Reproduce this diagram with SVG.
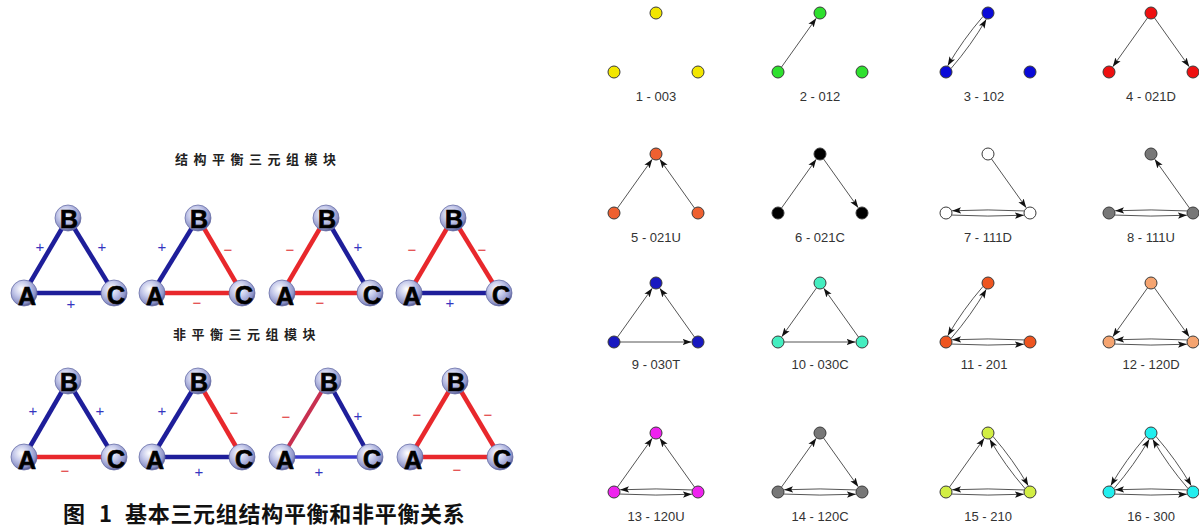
<svg xmlns="http://www.w3.org/2000/svg" width="1199" height="527" viewBox="0 0 1199 527">
<defs>
<style>
.lbl{font-family:"Liberation Sans",Arial,sans-serif;font-size:13px;fill:#333;text-anchor:middle}
.e{fill:none;stroke:#555;stroke-width:1;marker-end:url(#ah)}
.n{stroke:#3a3a3a;stroke-width:1}
.tt{font-family:"Noto Sans CJK SC",sans-serif;font-weight:700;font-size:13px;fill:#222;letter-spacing:5.5px}
.cap{font-family:"Noto Sans CJK SC",sans-serif;font-weight:700;font-size:22px;fill:#111;letter-spacing:0.7px}
.sg{font-family:"Liberation Sans",Arial,sans-serif;font-size:15px;text-anchor:middle}
.p{fill:#3535c0}
.m{fill:#e03030}
.lb{stroke:#1e1e9a;stroke-width:4.5}
.lr{stroke:#e8282c;stroke-width:4.5}
.sph{fill:url(#sph);stroke:#6a70a8;stroke-width:0.8}
.let{font-family:"Liberation Sans",Arial,sans-serif;font-weight:700;font-size:25px;fill:#000;stroke:#000;stroke-width:0.7;text-anchor:middle}
</style>
<marker id="ah" markerUnits="userSpaceOnUse" markerWidth="9" markerHeight="7" viewBox="0 0 9 7" refX="9" refY="3.5" orient="auto">
<path d="M0,0.3 L9,3.5 L0,6.7 L2,3.5 z" fill="#111"/>
</marker>
<radialGradient id="sph" cx="40%" cy="35%" r="65%">
<stop offset="0" stop-color="#ffffff"/>
<stop offset="0.45" stop-color="#c5c9ea"/>
<stop offset="0.85" stop-color="#8d93c8"/>
<stop offset="1" stop-color="#5a5f95"/>
</radialGradient>
</defs>
<rect width="1199" height="527" fill="#fff"/>

<!-- Left part -->
<text class="tt" x="175" y="164">结构平衡三元组模块</text>
<text class="tt" x="173" y="339">非平衡三元组模块</text>

<g id="sign-triangles">
<!-- Row 1 -->
<g id="bal1">
<g id="bal1-edges"><line class="lb" x1="24" y1="293" x2="68" y2="218"/><line class="lb" x1="68" y1="218" x2="114" y2="293"/><line class="lb" x1="24" y1="293" x2="114" y2="293"/></g>
<g id="bal1-B"><circle class="sph" cx="68" cy="218" r="13"/><text class="let" x="69" y="228">B</text></g>
<g id="bal1-A"><circle class="sph" cx="24" cy="293" r="13"/><text class="let" x="27" y="305">A</text></g>
<g id="bal1-C"><circle class="sph" cx="114" cy="293" r="13"/><text class="let" x="116" y="304">C</text></g>
<text class="sg p" x="40" y="252">+</text><text class="sg p" x="102" y="252">+</text><text class="sg p" x="71" y="309">+</text>
</g>
<g id="bal2">
<g id="bal2-edges"><line class="lb" x1="152" y1="293" x2="198" y2="218"/><line class="lr" x1="198" y1="218" x2="242" y2="293"/><line class="lr" x1="152" y1="293" x2="242" y2="293"/></g>
<g id="bal2-B"><circle class="sph" cx="198" cy="218" r="13"/><text class="let" x="199" y="228">B</text></g>
<g id="bal2-A"><circle class="sph" cx="152" cy="293" r="13"/><text class="let" x="155" y="305">A</text></g>
<g id="bal2-C"><circle class="sph" cx="242" cy="293" r="13"/><text class="let" x="244" y="304">C</text></g>
<text class="sg p" x="162" y="252">+</text><text class="sg m" x="228" y="255">−</text><text class="sg m" x="197" y="308">−</text>
</g>
<g id="bal3">
<g id="bal3-edges"><line class="lr" x1="282" y1="293" x2="326" y2="218"/><line class="lb" x1="326" y1="218" x2="370" y2="293"/><line class="lr" x1="282" y1="293" x2="370" y2="293"/></g>
<g id="bal3-B"><circle class="sph" cx="326" cy="218" r="13"/><text class="let" x="327" y="228">B</text></g>
<g id="bal3-A"><circle class="sph" cx="282" cy="293" r="13"/><text class="let" x="285" y="305">A</text></g>
<g id="bal3-C"><circle class="sph" cx="370" cy="293" r="13"/><text class="let" x="372" y="304">C</text></g>
<text class="sg m" x="290" y="255">−</text><text class="sg p" x="358" y="252">+</text><text class="sg m" x="320" y="308">−</text>
</g>
<g id="bal4">
<g id="bal4-edges"><line class="lr" x1="409" y1="293" x2="453" y2="218"/><line class="lr" x1="453" y1="218" x2="499" y2="293"/><line class="lb" x1="409" y1="293" x2="499" y2="293"/></g>
<g id="bal4-B"><circle class="sph" cx="453" cy="218" r="13"/><text class="let" x="454" y="228">B</text></g>
<g id="bal4-A"><circle class="sph" cx="409" cy="293" r="13"/><text class="let" x="412" y="305">A</text></g>
<g id="bal4-C"><circle class="sph" cx="499" cy="293" r="13"/><text class="let" x="501" y="304">C</text></g>
<text class="sg m" x="412" y="255">−</text><text class="sg m" x="482" y="255">−</text><text class="sg p" x="450" y="308">+</text>
</g>
<!-- Row 2 -->
<g id="unb1">
<g id="unb1-edges"><line class="lb" x1="24" y1="457" x2="68" y2="381"/><line class="lb" x1="68" y1="381" x2="114" y2="457"/><line class="lr" x1="24" y1="457" x2="114" y2="457"/></g>
<g id="unb1-B"><circle class="sph" cx="68" cy="381" r="13"/><text class="let" x="69" y="391">B</text></g>
<g id="unb1-A"><circle class="sph" cx="24" cy="457" r="13"/><text class="let" x="27" y="469">A</text></g>
<g id="unb1-C"><circle class="sph" cx="114" cy="457" r="13"/><text class="let" x="116" y="468">C</text></g>
<text class="sg p" x="33" y="416">+</text><text class="sg p" x="100" y="416">+</text><text class="sg m" x="65" y="476">−</text>
</g>
<g id="unb2">
<g id="unb2-edges"><line class="lb" x1="152" y1="457" x2="198" y2="381"/><line class="lr" x1="198" y1="381" x2="242" y2="457"/><line class="lb" x1="152" y1="457" x2="242" y2="457"/></g>
<g id="unb2-B"><circle class="sph" cx="198" cy="381" r="13"/><text class="let" x="199" y="391">B</text></g>
<g id="unb2-A"><circle class="sph" cx="152" cy="457" r="13"/><text class="let" x="155" y="469">A</text></g>
<g id="unb2-C"><circle class="sph" cx="242" cy="457" r="13"/><text class="let" x="244" y="468">C</text></g>
<text class="sg p" x="162" y="416">+</text><text class="sg m" x="234" y="418">−</text><text class="sg p" x="199" y="477">+</text>
</g>
<g id="unb3">
<g id="unb3-edges"><line x1="282" y1="457" x2="328" y2="381" stroke="#c83050" stroke-width="4"/><line class="lb" x1="328" y1="381" x2="370" y2="457"/><line x1="282" y1="457" x2="370" y2="457" stroke="#3c3ccc" stroke-width="3.5"/></g>
<g id="unb3-B"><circle class="sph" cx="328" cy="381" r="13"/><text class="let" x="329" y="391">B</text></g>
<g id="unb3-A"><circle class="sph" cx="282" cy="457" r="13"/><text class="let" x="285" y="469">A</text></g>
<g id="unb3-C"><circle class="sph" cx="370" cy="457" r="13"/><text class="let" x="372" y="468">C</text></g>
<text class="sg m" x="286" y="422">−</text><text class="sg p" x="358" y="421">+</text><text class="sg p" x="319" y="477">+</text>
</g>
<g id="unb4">
<g id="unb4-edges"><line class="lr" x1="410" y1="457" x2="455" y2="381"/><line class="lr" x1="455" y1="381" x2="500" y2="457"/><line class="lr" x1="410" y1="457" x2="500" y2="457"/></g>
<g id="unb4-B"><circle class="sph" cx="455" cy="381" r="13"/><text class="let" x="456" y="391">B</text></g>
<g id="unb4-A"><circle class="sph" cx="410" cy="457" r="13"/><text class="let" x="413" y="469">A</text></g>
<g id="unb4-C"><circle class="sph" cx="500" cy="457" r="13"/><text class="let" x="502" y="468">C</text></g>
<text class="sg m" x="417" y="420">−</text><text class="sg m" x="488" y="420">−</text><text class="sg m" x="457" y="475">−</text>
</g>
</g>

<text class="cap" y="522"><tspan x="63">图</tspan><tspan x="99">1</tspan><tspan x="125">基本三元组结构平衡和非平衡关系</tspan></text>

<!-- Right part: 16 triads -->
<g id="triad1" transform="translate(656,13)">
<g id="triad1-edges"></g>
<g id="triad1-T"><circle class="n" cx="0" cy="0" r="6" fill="#f2e600"/></g>
<g id="triad1-L"><circle class="n" cx="-42" cy="59" r="6" fill="#f2e600"/></g>
<g id="triad1-R"><circle class="n" cx="42" cy="59" r="6" fill="#f2e600"/></g>
<text class="lbl" x="0" y="88">1 - 003</text>
</g>
<g id="triad2" transform="translate(820,13)">
<g id="triad2-edges"><path class="e" d="M-38.52,54.11 L-3.77,5.3"/></g>
<g id="triad2-T"><circle class="n" cx="0" cy="0" r="6" fill="#2ee02e"/></g>
<g id="triad2-L"><circle class="n" cx="-42" cy="59" r="6" fill="#2ee02e"/></g>
<g id="triad2-R"><circle class="n" cx="42" cy="59" r="6" fill="#2ee02e"/></g>
<text class="lbl" x="0" y="88">2 - 012</text>
</g>
<g id="triad3" transform="translate(988,13)">
<g id="triad3-edges"><path class="e" d="M-37.06,55.6 Q-16.93,32.4 -1.73,6.27"/><path class="e" d="M-4.94,3.4 Q-25.07,26.6 -40.27,52.73"/></g>
<g id="triad3-T"><circle class="n" cx="0" cy="0" r="6" fill="#0a0ad8"/></g>
<g id="triad3-L"><circle class="n" cx="-42" cy="59" r="6" fill="#0a0ad8"/></g>
<g id="triad3-R"><circle class="n" cx="42" cy="59" r="6" fill="#0a0ad8"/></g>
<text class="lbl" x="-4" y="88">3 - 102</text>
</g>
<g id="triad4" transform="translate(1151,13)">
<g id="triad4-edges"><path class="e" d="M-3.48,4.89 L-38.23,53.7"/><path class="e" d="M3.48,4.89 L38.23,53.7"/></g>
<g id="triad4-T"><circle class="n" cx="0" cy="0" r="6" fill="#ee1010"/></g>
<g id="triad4-L"><circle class="n" cx="-42" cy="59" r="6" fill="#ee1010"/></g>
<g id="triad4-R"><circle class="n" cx="42" cy="59" r="6" fill="#ee1010"/></g>
<text class="lbl" x="0" y="88">4 - 021D</text>
</g>

<g id="triad5" transform="translate(656,154)">
<g id="triad5-edges"><path class="e" d="M-38.52,54.11 L-3.77,5.3"/><path class="e" d="M38.52,54.11 L3.77,5.3"/></g>
<g id="triad5-T"><circle class="n" cx="0" cy="0" r="6" fill="#ee6030"/></g>
<g id="triad5-L"><circle class="n" cx="-42" cy="59" r="6" fill="#ee6030"/></g>
<g id="triad5-R"><circle class="n" cx="42" cy="59" r="6" fill="#ee6030"/></g>
<text class="lbl" x="0" y="88">5 - 021U</text>
</g>
<g id="triad6" transform="translate(820,154)">
<g id="triad6-edges"><path class="e" d="M-38.52,54.11 L-3.77,5.3"/><path class="e" d="M3.48,4.89 L38.23,53.7"/></g>
<g id="triad6-T"><circle class="n" cx="0" cy="0" r="6" fill="#000"/></g>
<g id="triad6-L"><circle class="n" cx="-42" cy="59" r="6" fill="#000"/></g>
<g id="triad6-R"><circle class="n" cx="42" cy="59" r="6" fill="#000"/></g>
<text class="lbl" x="0" y="88">6 - 021C</text>
</g>
<g id="triad7" transform="translate(988,154)">
<g id="triad7-edges"><path class="e" d="M3.48,4.89 L38.23,53.7"/><path class="e" d="M-36.36,61.05 Q0,63 35.89,61.22"/><path class="e" d="M36.36,56.95 Q0,55 -35.89,56.78"/></g>
<g id="triad7-T"><circle class="n" cx="0" cy="0" r="6" fill="#fff" stroke="#666"/></g>
<g id="triad7-L"><circle class="n" cx="-42" cy="59" r="6" fill="#fff" stroke="#666"/></g>
<g id="triad7-R"><circle class="n" cx="42" cy="59" r="6" fill="#fff" stroke="#666"/></g>
<text class="lbl" x="0" y="88">7 - 111D</text>
</g>
<g id="triad8" transform="translate(1151,154)">
<g id="triad8-edges"><path class="e" d="M38.52,54.11 L3.77,5.3"/><path class="e" d="M-36.36,61.05 Q0,63 35.89,61.22"/><path class="e" d="M36.36,56.95 Q0,55 -35.89,56.78"/></g>
<g id="triad8-T"><circle class="n" cx="0" cy="0" r="6" fill="#777"/></g>
<g id="triad8-L"><circle class="n" cx="-42" cy="59" r="6" fill="#777"/></g>
<g id="triad8-R"><circle class="n" cx="42" cy="59" r="6" fill="#777"/></g>
<text class="lbl" x="0" y="88">8 - 111U</text>
</g>

<g id="triad9" transform="translate(656,283)">
<g id="triad9-edges"><path class="e" d="M-38.52,54.11 L-3.77,5.3"/><path class="e" d="M38.52,54.11 L3.77,5.3"/><path class="e" d="M-36,59 L35.5,59"/></g>
<g id="triad9-T"><circle class="n" cx="0" cy="0" r="6" fill="#1818c0"/></g>
<g id="triad9-L"><circle class="n" cx="-42" cy="59" r="6" fill="#1818c0"/></g>
<g id="triad9-R"><circle class="n" cx="42" cy="59" r="6" fill="#1818c0"/></g>
<text class="lbl" x="0" y="86">9 - 030T</text>
</g>
<g id="triad10" transform="translate(820,283)">
<g id="triad10-edges"><path class="e" d="M-3.48,4.89 L-38.23,53.7"/><path class="e" d="M38.52,54.11 L3.77,5.3"/><path class="e" d="M-36,59 L35.5,59"/></g>
<g id="triad10-T"><circle class="n" cx="0" cy="0" r="6" fill="#44eec0"/></g>
<g id="triad10-L"><circle class="n" cx="-42" cy="59" r="6" fill="#44eec0"/></g>
<g id="triad10-R"><circle class="n" cx="42" cy="59" r="6" fill="#44eec0"/></g>
<text class="lbl" x="0" y="86">10 - 030C</text>
</g>
<g id="triad11" transform="translate(988,283)">
<g id="triad11-edges"><path class="e" d="M-37.06,55.6 Q-16.93,32.4 -1.73,6.27"/><path class="e" d="M-4.94,3.4 Q-25.07,26.6 -40.27,52.73"/><path class="e" d="M-36.36,61.05 Q0,63 35.89,61.22"/><path class="e" d="M36.36,56.95 Q0,55 -35.89,56.78"/></g>
<g id="triad11-T"><circle class="n" cx="0" cy="0" r="6" fill="#ee5520"/></g>
<g id="triad11-L"><circle class="n" cx="-42" cy="59" r="6" fill="#ee5520"/></g>
<g id="triad11-R"><circle class="n" cx="42" cy="59" r="6" fill="#ee5520"/></g>
<text class="lbl" x="-4" y="86">11 - 201</text>
</g>
<g id="triad12" transform="translate(1151,283)">
<g id="triad12-edges"><path class="e" d="M-3.48,4.89 L-38.23,53.7"/><path class="e" d="M3.48,4.89 L38.23,53.7"/><path class="e" d="M-36.36,61.05 Q0,63 35.89,61.22"/><path class="e" d="M36.36,56.95 Q0,55 -35.89,56.78"/></g>
<g id="triad12-T"><circle class="n" cx="0" cy="0" r="6" fill="#f5a470"/></g>
<g id="triad12-L"><circle class="n" cx="-42" cy="59" r="6" fill="#f5a470"/></g>
<g id="triad12-R"><circle class="n" cx="42" cy="59" r="6" fill="#f5a470"/></g>
<text class="lbl" x="0" y="86">12 - 120D</text>
</g>

<g id="triad13" transform="translate(656,433)">
<g id="triad13-edges"><path class="e" d="M-38.52,54.11 L-3.77,5.3"/><path class="e" d="M38.52,54.11 L3.77,5.3"/><path class="e" d="M-36.36,61.05 Q0,63 35.89,61.22"/><path class="e" d="M36.36,56.95 Q0,55 -35.89,56.78"/></g>
<g id="triad13-T"><circle class="n" cx="0" cy="0" r="6" fill="#ee22ee"/></g>
<g id="triad13-L"><circle class="n" cx="-42" cy="59" r="6" fill="#ee22ee"/></g>
<g id="triad13-R"><circle class="n" cx="42" cy="59" r="6" fill="#ee22ee"/></g>
<text class="lbl" x="0" y="88">13 - 120U</text>
</g>
<g id="triad14" transform="translate(820,433)">
<g id="triad14-edges"><path class="e" d="M-38.52,54.11 L-3.77,5.3"/><path class="e" d="M3.48,4.89 L38.23,53.7"/><path class="e" d="M-36.36,61.05 Q0,63 35.89,61.22"/><path class="e" d="M36.36,56.95 Q0,55 -35.89,56.78"/></g>
<g id="triad14-T"><circle class="n" cx="0" cy="0" r="6" fill="#777"/></g>
<g id="triad14-L"><circle class="n" cx="-42" cy="59" r="6" fill="#777"/></g>
<g id="triad14-R"><circle class="n" cx="42" cy="59" r="6" fill="#777"/></g>
<text class="lbl" x="0" y="88">14 - 120C</text>
</g>
<g id="triad15" transform="translate(988,433)">
<g id="triad15-edges"><path class="e" d="M-38.52,54.11 L-3.77,5.3"/><path class="e" d="M37.06,55.6 Q16.93,32.4 1.73,6.27"/><path class="e" d="M4.94,3.4 Q25.07,26.6 40.27,52.73"/><path class="e" d="M-36.36,61.05 Q0,63 35.89,61.22"/><path class="e" d="M36.36,56.95 Q0,55 -35.89,56.78"/></g>
<g id="triad15-T"><circle class="n" cx="0" cy="0" r="6" fill="#d2ee44"/></g>
<g id="triad15-L"><circle class="n" cx="-42" cy="59" r="6" fill="#d2ee44"/></g>
<g id="triad15-R"><circle class="n" cx="42" cy="59" r="6" fill="#d2ee44"/></g>
<text class="lbl" x="0" y="88">15 - 210</text>
</g>
<g id="triad16" transform="translate(1151,433)">
<g id="triad16-edges"><path class="e" d="M-37.06,55.6 Q-16.93,32.4 -1.73,6.27"/><path class="e" d="M-4.94,3.4 Q-25.07,26.6 -40.27,52.73"/><path class="e" d="M37.06,55.6 Q16.93,32.4 1.73,6.27"/><path class="e" d="M4.94,3.4 Q25.07,26.6 40.27,52.73"/><path class="e" d="M-36.36,61.05 Q0,63 35.89,61.22"/><path class="e" d="M36.36,56.95 Q0,55 -35.89,56.78"/></g>
<g id="triad16-T"><circle class="n" cx="0" cy="0" r="6" fill="#22eeee"/></g>
<g id="triad16-L"><circle class="n" cx="-42" cy="59" r="6" fill="#22eeee"/></g>
<g id="triad16-R"><circle class="n" cx="42" cy="59" r="6" fill="#22eeee"/></g>
<text class="lbl" x="0" y="88">16 - 300</text>
</g>
</svg>
